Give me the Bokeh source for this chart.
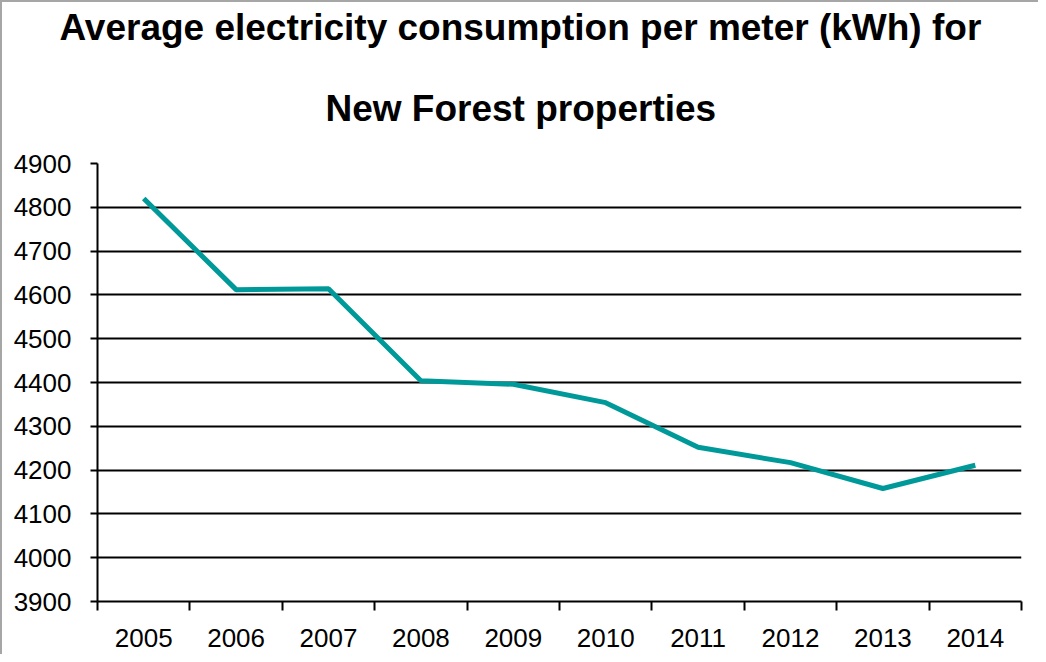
from bokeh.plotting import figure
from bokeh.models import FixedTicker, Range1d, Title
from bokeh.embed import file_html
from bokeh.resources import INLINE

title_lines = ["Average electricity consumption per meter (kWh) for", "New Forest properties"]
years = ["2005", "2006", "2007", "2008", "2009", "2010", "2011", "2012", "2013", "2014"]
consumption = [4820, 4612, 4614, 4404, 4396, 4354, 4252, 4217, 4158, 4211]
y_ticks = [3900, 4000, 4100, 4200, 4300, 4400, 4500, 4600, 4700, 4800, 4900]

xs = [i + 0.5 for i in range(len(years))]

p = figure(width=1038, height=654, output_backend="svg", toolbar_location=None,
           x_range=Range1d(0, len(years)), y_range=Range1d(3900, 4900),
           min_border_left=95, min_border_right=19, min_border_top=145, min_border_bottom=55)
p.background_fill_color = "white"
p.border_fill_color = "white"
p.outline_line_color = None
p.styles = {"border-left": "2px solid #a6a6a6", "border-top": "2px solid #a6a6a6"}

title_style = dict(align="left", text_font="Liberation Sans", text_font_size="37px",
                   text_font_style="bold", text_color="black")
p.title = None
p.add_layout(Title(text=title_lines[1], offset=228, standoff=70, **title_style), "above")
p.add_layout(Title(text=title_lines[0], offset=-38, standoff=5, **title_style), "above")

p.line(xs, consumption, line_color="#009999", line_width=5)

p.xaxis.ticker = FixedTicker(ticks=xs, minor_ticks=list(range(len(years) + 1)))
p.xaxis.major_label_overrides = {x: y for x, y in zip(xs, years)}
p.xaxis.major_tick_line_color = None
p.xaxis.major_tick_in = 0
p.xaxis.major_tick_out = 0
p.xaxis.minor_tick_line_color = "black"
p.xaxis.minor_tick_line_width = 2
p.xaxis.minor_tick_in = 0
p.xaxis.minor_tick_out = 9
p.xaxis.axis_line_color = "black"
p.xaxis.axis_line_width = 2
p.xaxis.major_label_text_font = "Liberation Sans"
p.xaxis.major_label_text_font_size = "26px"
p.xaxis.major_label_text_color = "black"
p.xaxis.major_label_standoff = 18

p.yaxis.ticker = FixedTicker(ticks=y_ticks)
p.yaxis.minor_tick_line_color = None
p.yaxis.major_tick_in = 0
p.yaxis.major_tick_out = 7
p.yaxis.major_tick_line_width = 2
p.yaxis.major_tick_line_color = "black"
p.yaxis.axis_line_color = "black"
p.yaxis.axis_line_width = 2
p.yaxis.major_label_text_font = "Liberation Sans"
p.yaxis.major_label_text_font_size = "26px"
p.yaxis.major_label_text_color = "black"
p.yaxis.major_label_standoff = 19

p.xgrid.grid_line_color = None
p.ygrid.ticker = FixedTicker(ticks=y_ticks)
p.ygrid.grid_line_color = "black"
p.ygrid.grid_line_width = 2

open("out.html", "w").write(file_html(p, INLINE))
